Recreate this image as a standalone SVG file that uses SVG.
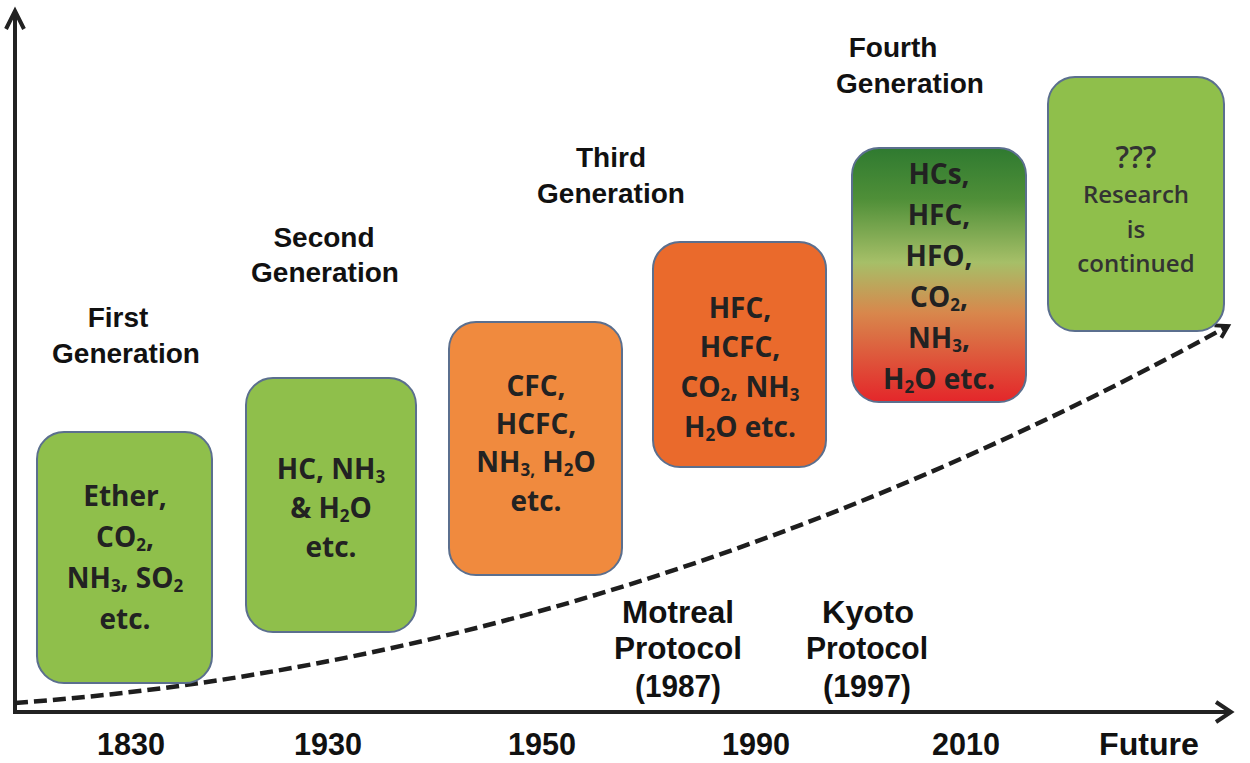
<svg xmlns="http://www.w3.org/2000/svg" width="1250" height="763" viewBox="0 0 1250 763">
<defs>
<linearGradient id="g5" x1="0" y1="0" x2="0" y2="1">
<stop offset="0" stop-color="#2f7a30"/>
<stop offset="0.2" stop-color="#4f8f38"/>
<stop offset="0.45" stop-color="#a6bf68"/>
<stop offset="0.65" stop-color="#d8874c"/>
<stop offset="1" stop-color="#e4262a"/>
</linearGradient>
<marker id="arr" viewBox="0 0 14 14" refX="11" refY="7" markerWidth="18" markerHeight="18" markerUnits="userSpaceOnUse" orient="auto">
<path d="M2,1.5 L11,7 L2,12.5" fill="none" stroke="#1e1e1e" stroke-width="3"/>
</marker>
<style>
.box{stroke:#5b6f8e;stroke-width:2}
.green{fill:#8fbf4b}
.t{font-family:"Open Sans","Liberation Sans",sans-serif;font-weight:700;font-size:28px;fill:#222;text-anchor:middle}
.s{font-size:17px}
.ttl{font-family:"Liberation Sans",Arial,sans-serif;font-weight:700;font-size:28px;fill:#111;text-anchor:middle}
.yr{font-family:"Liberation Sans",Arial,sans-serif;font-weight:700;font-size:31px;fill:#111;text-anchor:middle}
.ax{stroke:#222;stroke-width:4;fill:none}
</style>
</defs>
<rect width="1250" height="763" fill="#ffffff"/>

<g id="connectors">
<path class="ax" d="M15,714 L15,12"/>
<path class="ax" d="M6,29 L15,11 L24,29"/>
<path class="ax" d="M13,712 L1230,712"/>
<path class="ax" d="M1216,702 L1231,712 L1216,722"/>
<path d="M15,703 Q621.5,659.5 1228,326" fill="none" stroke="#1e1e1e" stroke-width="4.5" stroke-dasharray="13,6" marker-end="url(#arr)"/>
</g>

<g id="node-first">
<rect class="box green" x="37" y="432" width="175" height="251" rx="27"/>
<text class="t" x="125" y="506">Ether,</text>
<text class="t" x="125" y="547">CO<tspan class="s" dy="4">2</tspan><tspan dy="-4">,</tspan></text>
<text class="t" x="125" y="588">NH<tspan class="s" dy="4">3</tspan><tspan dy="-4">, SO</tspan><tspan class="s" dy="4">2</tspan></text>
<text class="t" x="125" y="629">etc.</text>
</g>

<g id="node-second">
<rect class="box green" x="246" y="378" width="170" height="254" rx="27"/>
<text class="t" x="331" y="479">HC, NH<tspan class="s" dy="4">3</tspan></text>
<text class="t" x="331" y="518">&amp; H<tspan class="s" dy="4">2</tspan><tspan dy="-4">O</tspan></text>
<text class="t" x="331" y="557">etc.</text>
</g>

<g id="node-third">
<rect class="box" x="449" y="322" width="173" height="253" rx="27" fill="#f08a3e"/>
<text class="t" x="536" y="396">CFC,</text>
<text class="t" x="536" y="434">HCFC,</text>
<text class="t" x="536" y="472">NH<tspan class="s" dy="4">3,</tspan><tspan dy="-4"> H</tspan><tspan class="s" dy="4">2</tspan><tspan dy="-4">O</tspan></text>
<text class="t" x="536" y="511">etc.</text>
</g>

<g id="node-third-b">
<rect class="box" x="653" y="242" width="173" height="225" rx="27" fill="#ea6a2c"/>
<text class="t" x="740" y="318">HFC,</text>
<text class="t" x="740" y="357">HCFC,</text>
<text class="t" x="740" y="397">CO<tspan class="s" dy="4">2</tspan><tspan dy="-4">, NH</tspan><tspan class="s" dy="4">3</tspan></text>
<text class="t" x="740" y="437">H<tspan class="s" dy="4">2</tspan><tspan dy="-4">O  etc.</tspan></text>
</g>

<g id="node-fourth">
<rect class="box" x="852" y="148" width="174" height="254" rx="27" fill="url(#g5)"/>
<text class="t" x="939" y="184">HCs,</text>
<text class="t" x="939" y="225">HFC,</text>
<text class="t" x="939" y="266">HFO,</text>
<text class="t" x="939" y="307">CO<tspan class="s" dy="4">2</tspan><tspan dy="-4">,</tspan></text>
<text class="t" x="939" y="348">NH<tspan class="s" dy="4">3</tspan><tspan dy="-4">,</tspan></text>
<text class="t" x="939" y="389">H<tspan class="s" dy="4">2</tspan><tspan dy="-4">O  etc.</tspan></text>
</g>

<g id="node-future">
<rect class="box green" x="1048" y="77" width="176" height="254" rx="27"/>
<text class="t" x="1136" y="168" style="font-size:30px;font-weight:600;fill:#333">???</text>
<text class="t" x="1136" y="203" style="font-size:24px;font-weight:600;fill:#333">Research</text>
<text class="t" x="1136" y="238" style="font-size:24px;font-weight:600;fill:#333">is</text>
<text class="t" x="1136" y="272" style="font-size:24px;font-weight:600;fill:#333">continued</text>
</g>

<g id="titles">
<text class="ttl" x="118" y="327">First</text>
<text class="ttl" x="126" y="363">Generation</text>
<text class="ttl" x="324" y="247">Second</text>
<text class="ttl" x="325" y="282">Generation</text>
<text class="ttl" x="611" y="167">Third</text>
<text class="ttl" x="611" y="203">Generation</text>
<text class="ttl" x="893" y="57">Fourth</text>
<text class="ttl" x="910" y="93">Generation</text>
</g>

<g id="protocols">
<text class="yr" x="678" y="623" textLength="112" lengthAdjust="spacingAndGlyphs">Motreal</text>
<text class="yr" x="678" y="659" textLength="128" lengthAdjust="spacingAndGlyphs">Protocol</text>
<text class="yr" x="678" y="697" textLength="86" lengthAdjust="spacingAndGlyphs">(1987)</text>
<text class="yr" x="868" y="623" textLength="92" lengthAdjust="spacingAndGlyphs">Kyoto</text>
<text class="yr" x="867" y="659" textLength="122" lengthAdjust="spacingAndGlyphs">Protocol</text>
<text class="yr" x="867" y="697" textLength="88" lengthAdjust="spacingAndGlyphs">(1997)</text>
</g>

<g id="years">
<text class="yr" x="131" y="755" textLength="68" lengthAdjust="spacingAndGlyphs">1830</text>
<text class="yr" x="328" y="755" textLength="68" lengthAdjust="spacingAndGlyphs">1930</text>
<text class="yr" x="542" y="755" textLength="68" lengthAdjust="spacingAndGlyphs">1950</text>
<text class="yr" x="756" y="755" textLength="68" lengthAdjust="spacingAndGlyphs">1990</text>
<text class="yr" x="966" y="755" textLength="68" lengthAdjust="spacingAndGlyphs">2010</text>
<text class="yr" x="1149" y="755" textLength="100" lengthAdjust="spacingAndGlyphs">Future</text>
</g>
</svg>
